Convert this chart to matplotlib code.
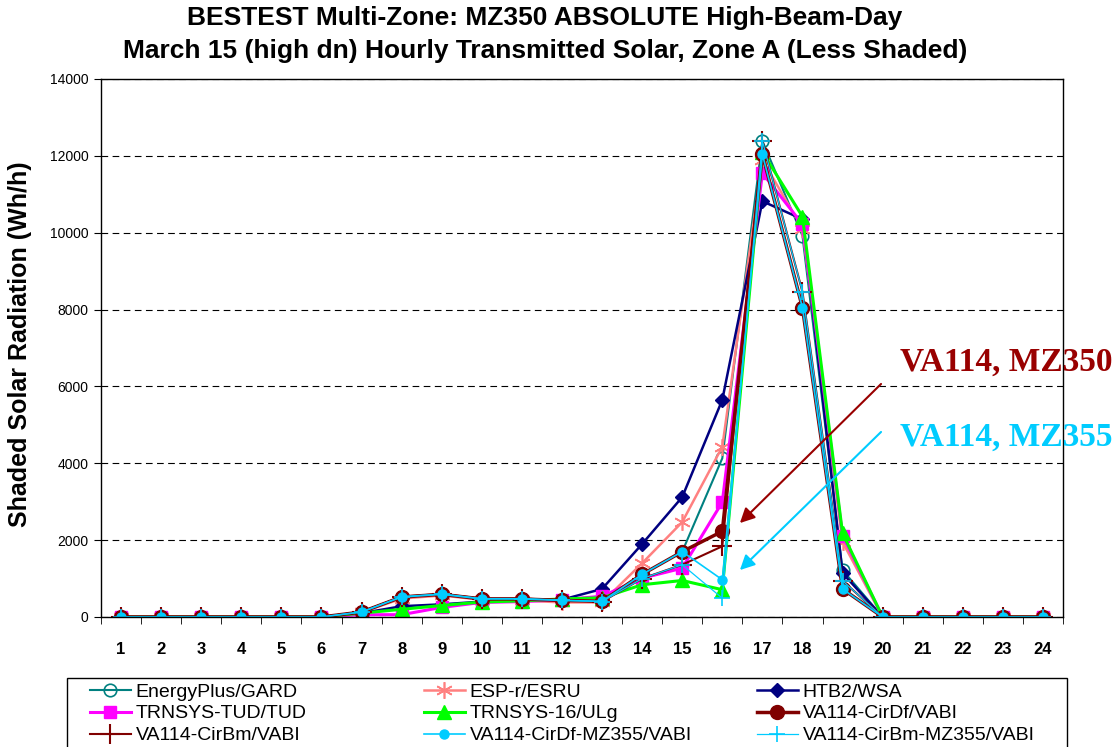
import numpy as np
import matplotlib
matplotlib.use("Agg")
import matplotlib.pyplot as plt
from matplotlib.patches import Rectangle

plt.rcParams['font.family'] = ['Liberation Sans', 'DejaVu Sans']

hours = list(range(1, 25))

# hourly transmitted solar (Wh/h); hours 1-6 and 20-24 are zero
z6 = [0, 0, 0, 0, 0, 0]
z5 = [0, 0, 0, 0, 0]
energyplus = z6 + [130, 520, 590, 470, 470, 440, 420, 1110, 1700, 4130, 12390, 9920, 1220] + z5
esp_r = z6 + [120, 480, 560, 450, 430, 380, 380, 1400, 2470, 4430, 11900, 10100, 1950] + z5
htb2 = z6 + [100, 280, 330, 400, 420, 450, 730, 1900, 3120, 5650, 10820, 10350, 1140] + z5
trnsys_tud = z6 + [60, 60, 250, 380, 400, 450, 540, 1010, 1270, 2990, 11550, 10220, 2110] + z5
trnsys_16 = z6 + [100, 200, 300, 390, 420, 470, 500, 840, 950, 710, 12100, 10420, 2180] + z5
va_cirdf = z6 + [130, 520, 590, 470, 470, 430, 410, 1110, 1700, 2230, 12040, 8050, 730] + z5
va_cirbm = z6 + [130, 530, 600, 480, 480, 440, 400, 1000, 1360, 1840, 12390, 8460, 945] + z5
va_cirdf_355 = z6 + [130, 520, 590, 470, 470, 430, 410, 1110, 1700, 970, 12040, 8050, 730] + z5
va_cirbm_355 = z6 + [130, 530, 600, 480, 480, 440, 400, 1000, 1360, 490, 12390, 8460, 945] + z5

fig = plt.figure(figsize=(11.16, 7.47), dpi=100)
ax = fig.add_axes([101/1116, 1 - 617/747, 962/1116, 538/747])

dred = '#800000'
cyan = '#00CCFF'

lines = []
lines += ax.plot(hours, energyplus, color='#008080', lw=1.5, marker='o', ms=9,
                 mfc='none', mec='#008080', mew=1.2, label='EnergyPlus/GARD')
lines += ax.plot(hours, esp_r, color='#FF8080', lw=1.8, marker=(6, 2, 0), ms=12,
                 mec='#FF8080', mew=1.2, label='ESP-r/ESRU')
lines += ax.plot(hours, htb2, color='#000080', lw=1.8, marker='D', ms=7.5,
                 label='HTB2/WSA')
lines += ax.plot(hours, trnsys_tud, color='#FF00FF', lw=2.2, marker='s', ms=9,
                 label='TRNSYS-TUD/TUD')
lines += ax.plot(hours, trnsys_16, color='#00FF00', lw=2.2, marker='^', ms=10,
                 label='TRNSYS-16/ULg')
lines += ax.plot(hours, va_cirdf, color=dred, lw=2.5, marker='o', ms=10,
                 label='VA114-CirDf/VABI')
lines += ax.plot(hours, va_cirbm, color=dred, lw=1.5, marker='+', ms=15, mew=1.5,
                 label='VA114-CirBm/VABI')
lines += ax.plot(hours, va_cirdf_355, color=cyan, lw=1.2, marker='o', ms=6.5,
                 label='VA114-CirDf-MZ355/VABI')
lines += ax.plot(hours, va_cirbm_355, color=cyan, lw=0.9, marker='+', ms=11, mew=1.2,
                 label='VA114-CirBm-MZ355/VABI')

ax.set_xlim(0.5, 24.5)
ax.set_ylim(0, 14000)
ax.set_xticks(hours)
ax.set_xticklabels([str(h) for h in hours], fontweight='bold', fontsize=12)
ax.set_xticks(np.arange(0.5, 25, 1), minor=True)
ax.tick_params(axis='x', which='major', length=0, pad=18)
ax.tick_params(axis='x', which='minor', length=5, direction='out')
ax.set_yticks(np.arange(0, 14001, 2000))
ax.tick_params(axis='y', length=5, direction='out', labelsize=10, pad=4)
ax.grid(axis='y', color='black', linestyle=(0, (6, 4)), lw=0.8)
ax.set_axisbelow(True)
for s in ax.spines.values():
    s.set_linewidth(1.0)

fig.text(20/1116, 1 - 344/747, 'Shaded Solar Radiation (Wh/h)', rotation=90,
         ha='center', va='center', fontsize=18, fontweight='bold')
fig.text(545/1116, 1 - 18/747, 'BESTEST Multi-Zone: MZ350 ABSOLUTE High-Beam-Day',
         ha='center', va='center', fontsize=19, fontweight='bold')
fig.text(545/1116, 1 - 51/747, 'March 15 (high dn) Hourly Transmitted Solar, Zone A (Less Shaded)',
         ha='center', va='center', fontsize=19, fontweight='bold')

# callouts
ax.annotate('', xy=(16.39, 2394), xytext=(20.01, 6115),
            arrowprops=dict(arrowstyle='-|>', color='#990000', lw=1.5, mutation_scale=22))
ax.annotate('', xy=(16.39, 1171), xytext=(20.01, 4866),
            arrowprops=dict(arrowstyle='-|>', color=cyan, lw=1.5, mutation_scale=22))
ax.text(20.44, 6620, 'VA114, MZ350', color='#990000', fontsize=24, fontweight='bold',
        family='Liberation Serif', va='center', clip_on=False)
ax.text(20.44, 4680, 'VA114, MZ355', color=cyan, fontsize=24, fontweight='bold',
        family='Liberation Serif', va='center', clip_on=False)

# legend: three evenly spaced columns inside one box
col_x = [90, 424, 757]
for i, x in enumerate(col_x):
    leg = fig.legend(handles=[lines[i], lines[i + 3], lines[i + 6]], loc='upper left',
                     bbox_to_anchor=(x/1116, 1 - 683/747), frameon=False, fontsize=14,
                     borderpad=0, borderaxespad=0, labelspacing=0.22, handlelength=2.1,
                     handletextpad=0.25)
fig.patches.append(Rectangle((67/1116, -0.02), 1000/1116, 0.02 + 69/747,
                             transform=fig.transFigure, fill=False, ec='black', lw=1.0))

fig.savefig('out.png', dpi=100)
